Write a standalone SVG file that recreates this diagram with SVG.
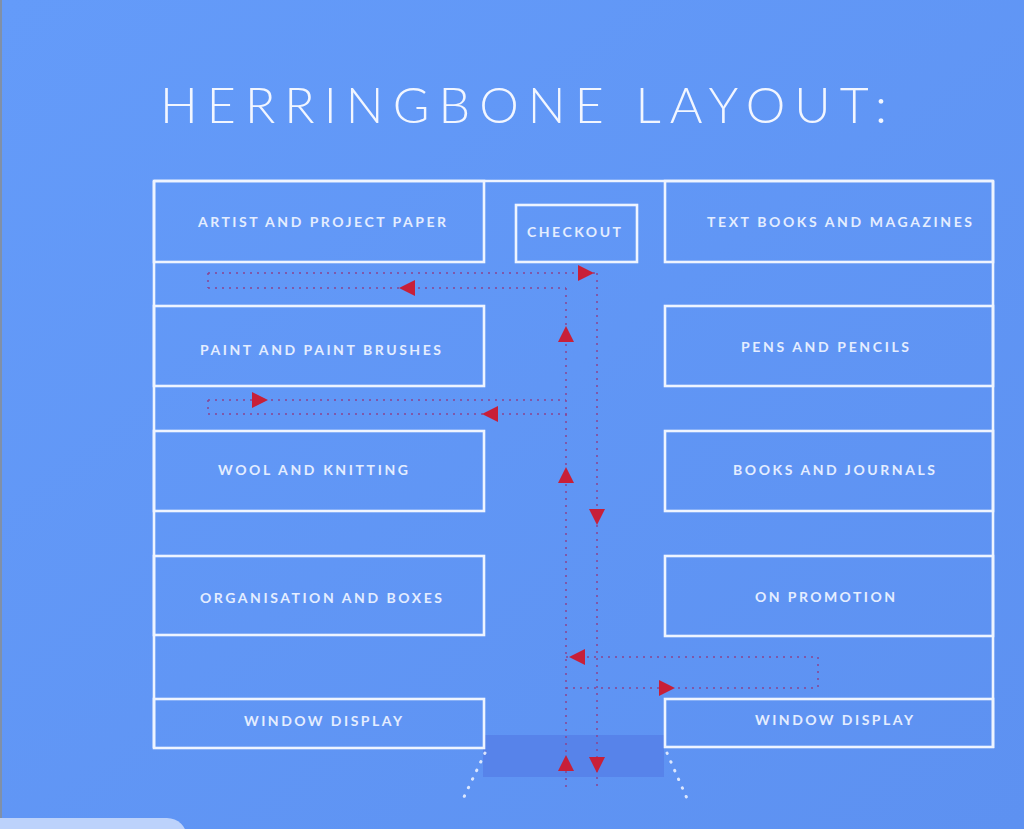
<svg xmlns="http://www.w3.org/2000/svg" xmlns:xlink="http://www.w3.org/1999/xlink" width="1024" height="829" viewBox="0 0 1024 829">
  <defs>
    <linearGradient id="bg" x1="0" y1="0" x2="1" y2="1">
      <stop offset="0" stop-color="#649bf9"/>
      <stop offset="1" stop-color="#5d91f1"/>
    </linearGradient>
    <path id="tri" d="M-7,-8 L9,0 L-7,8 Z"/>
  </defs>
  <style>
    .box { fill: none; stroke: #eef4ff; stroke-width: 2.6; }
    .lbl { font-family: Lato, "Open Sans", "Liberation Sans", sans-serif; font-weight: 700; font-size: 14px; fill: #e4edff; }
    .title { font-family: Lato, "Open Sans", "Liberation Sans", sans-serif; font-weight: 300; font-size: 50px; fill: #f2f6ff; }
    .dot { fill: none; stroke: #8a4490; stroke-opacity: 0.75; stroke-width: 2; stroke-dasharray: 2 5; }
    .arr { fill: #c81f38; }
    .wdot { fill: none; stroke: #f2f6ff; stroke-width: 3; stroke-linecap: round; stroke-dasharray: 0.5 9; opacity: 0.85; }
  </style>

  <rect x="0" y="0" width="1024" height="829" fill="url(#bg)"/>
  <rect x="0" y="0" width="2" height="829" fill="#8090a8"/>
  <rect x="-20" y="818" width="207" height="40" rx="20" fill="#bcd2fb"/>

  <text class="title" x="160" y="123" textLength="727" lengthAdjust="spacing">HERRINGBONE LAYOUT:</text>

  <!-- outer frame lines -->
  <g id="frame" class="box">
    <line x1="154" y1="181" x2="993" y2="181"/>
    <line x1="154" y1="181" x2="154" y2="748"/>
    <line x1="993" y1="181" x2="993" y2="748"/>
  </g>

  <!-- entrance -->
  <g id="entrance">
    <rect x="483" y="735" width="181" height="42" fill="#5783ea"/>
    <line class="wdot" x1="485" y1="753" x2="463" y2="799"/>
    <line class="wdot" x1="667" y1="753" x2="689" y2="803"/>
  </g>

  <g id="n-artist"><rect class="box" x="154" y="181" width="330" height="81"/><text class="lbl" x="198" y="227" textLength="248" lengthAdjust="spacing">ARTIST AND PROJECT PAPER</text></g>
  <g id="n-checkout"><rect class="box" x="516" y="205" width="121" height="57"/><text class="lbl" x="527" y="237" textLength="94" lengthAdjust="spacing">CHECKOUT</text></g>
  <g id="n-textbooks"><rect class="box" x="665" y="181" width="328" height="81"/><text class="lbl" x="707" y="227" textLength="265" lengthAdjust="spacing">TEXT BOOKS AND MAGAZINES</text></g>
  <g id="n-paint"><rect class="box" x="154" y="306" width="330" height="80"/><text class="lbl" x="200" y="355" textLength="241" lengthAdjust="spacing">PAINT AND PAINT BRUSHES</text></g>
  <g id="n-pens"><rect class="box" x="665" y="306" width="328" height="80"/><text class="lbl" x="741" y="352" textLength="168" lengthAdjust="spacing">PENS AND PENCILS</text></g>
  <g id="n-wool"><rect class="box" x="154" y="431" width="330" height="80"/><text class="lbl" x="218" y="475" textLength="190" lengthAdjust="spacing">WOOL AND KNITTING</text></g>
  <g id="n-books"><rect class="box" x="665" y="431" width="328" height="80"/><text class="lbl" x="733" y="475" textLength="202" lengthAdjust="spacing">BOOKS AND JOURNALS</text></g>
  <g id="n-organisation"><rect class="box" x="154" y="556" width="330" height="79"/><text class="lbl" x="200" y="603" textLength="242" lengthAdjust="spacing">ORGANISATION AND BOXES</text></g>
  <g id="n-promotion"><rect class="box" x="665" y="556" width="328" height="80"/><text class="lbl" x="755" y="602" textLength="140" lengthAdjust="spacing">ON PROMOTION</text></g>
  <g id="n-window-left"><rect class="box" x="154" y="699" width="330" height="49"/><text class="lbl" x="244" y="726" textLength="158" lengthAdjust="spacing">WINDOW DISPLAY</text></g>
  <g id="n-window-right"><rect class="box" x="665" y="699" width="328" height="48"/><text class="lbl" x="755" y="725" textLength="158" lengthAdjust="spacing">WINDOW DISPLAY</text></g>

  <!-- connectors -->
  <g id="connectors">
    <g class="dot">
      <line x1="208" y1="273" x2="597" y2="273"/>
      <line x1="208" y1="273" x2="208" y2="288"/>
      <line x1="208" y1="288" x2="566" y2="288"/>
      <line x1="566" y1="288" x2="566" y2="790"/>
      <line x1="597" y1="273" x2="597" y2="790"/>
      <line x1="208" y1="400" x2="566" y2="400"/>
      <line x1="208" y1="400" x2="208" y2="414"/>
      <line x1="208" y1="414" x2="570" y2="414"/>
      <line x1="566" y1="657" x2="818" y2="657"/>
      <line x1="818" y1="657" x2="818" y2="688"/>
      <line x1="566" y1="688" x2="818" y2="688"/>
    </g>
    <g class="arr">
      <use xlink:href="#tri" href="#tri" transform="translate(585,273)"/>
      <use xlink:href="#tri" href="#tri" transform="translate(408,288) rotate(180)"/>
      <use xlink:href="#tri" href="#tri" transform="translate(566,335) rotate(-90)"/>
      <use xlink:href="#tri" href="#tri" transform="translate(259,400)"/>
      <use xlink:href="#tri" href="#tri" transform="translate(491,414) rotate(180)"/>
      <use xlink:href="#tri" href="#tri" transform="translate(566,476) rotate(-90)"/>
      <use xlink:href="#tri" href="#tri" transform="translate(597,516) rotate(90)"/>
      <use xlink:href="#tri" href="#tri" transform="translate(578,657) rotate(180)"/>
      <use xlink:href="#tri" href="#tri" transform="translate(666,688)"/>
      <use xlink:href="#tri" href="#tri" transform="translate(566,764) rotate(-90)"/>
      <use xlink:href="#tri" href="#tri" transform="translate(597,764) rotate(90)"/>
    </g>
  </g>
</svg>
